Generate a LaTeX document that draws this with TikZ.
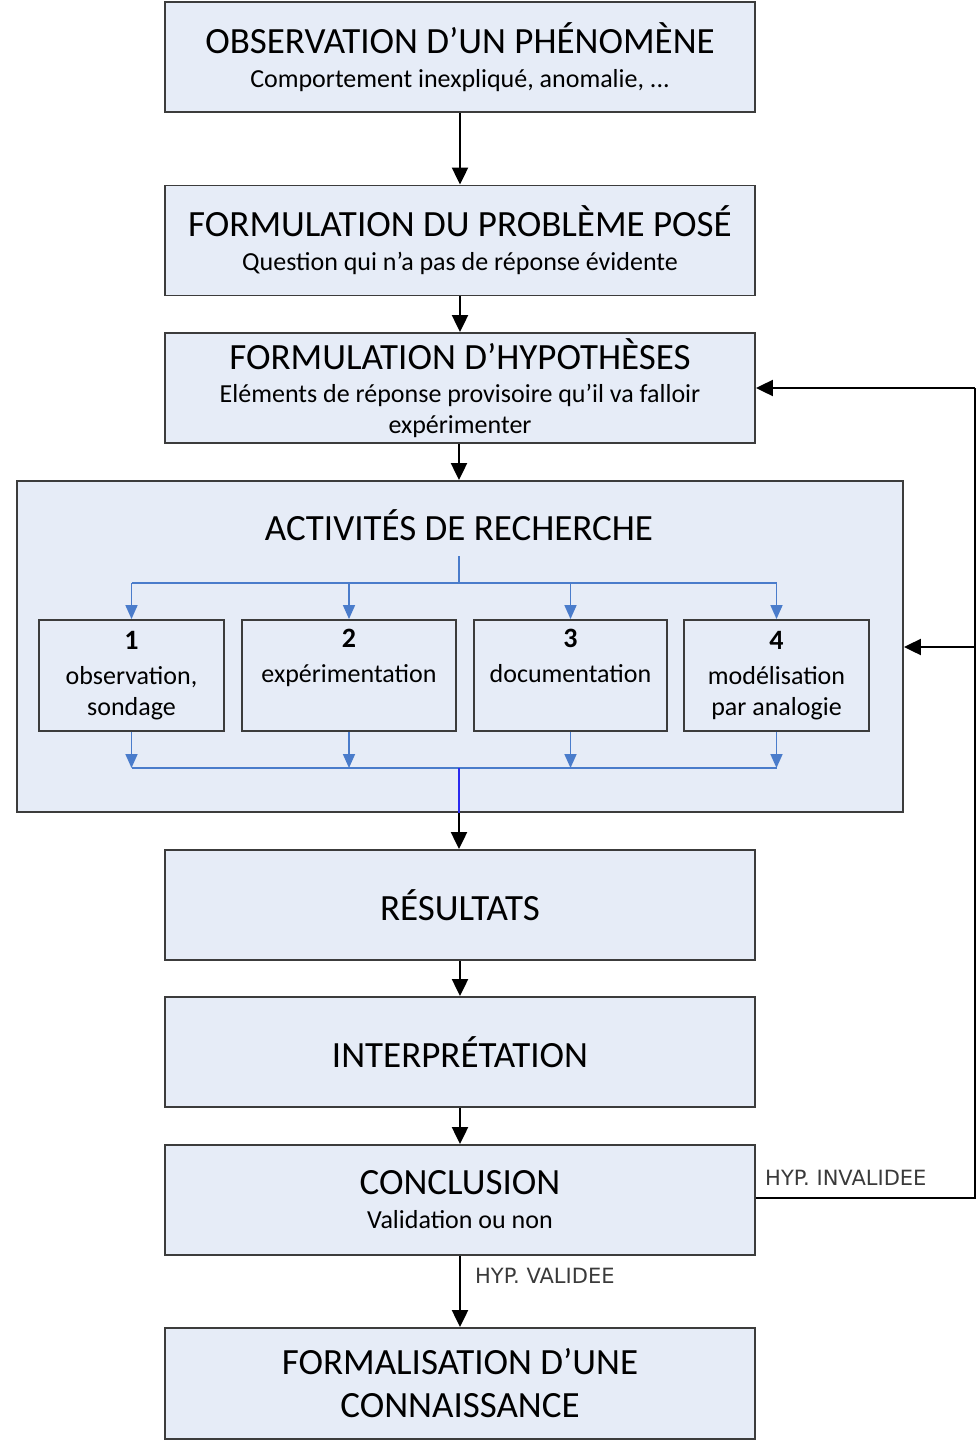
\documentclass[tikz,border=0pt]{standalone}
\usepackage{fontspec}
\setmainfont{Carlito}
\newfontfamily\labelfont{DejaVu Sans}
\usetikzlibrary{arrows.meta}
\definecolor{boxfill}{HTML}{E6ECF7}
\definecolor{boxline}{HTML}{3C3C3C}
\definecolor{flowblue}{HTML}{4A7CCB}
\definecolor{linkblue}{HTML}{2A2AF0}
\definecolor{labelgray}{HTML}{3A3A3A}
\newcommand{\ttl}{\fontsize{37}{43}\selectfont}
\newcommand{\sub}{\fontsize{26}{31}\selectfont}
\newcommand{\num}[1]{{\fontsize{28}{31}\selectfont\bfseries #1}}
\begin{document}
\begin{tikzpicture}[x=1pt,y=-1pt,
  stage/.style={draw=boxline, fill=boxfill, line width=1.9pt,
    minimum width=590pt, minimum height=110pt, align=center, inner sep=0pt, font=\sub},
  group/.style={draw=boxline, fill=boxfill, line width=1.9pt,
    minimum width=886pt, minimum height=331pt, inner sep=0pt},
  activity/.style={draw=boxline, fill=boxfill, line width=1.9pt,
    minimum height=111pt, align=center, inner sep=0pt, font=\sub},
  flow/.style={line width=2.2pt, black, -{Triangle[length=17pt,width=16pt]}},
  bluelink/.style={line width=1.7pt, flowblue},
  bluearrow/.style={bluelink, -{Triangle[length=14pt,width=12pt]}},
  note/.style={font=\labelfont\fontsize{21}{25}\selectfont, text=labelgray, anchor=west, inner sep=0pt}
]
\useasboundingbox (0,0) rectangle (979,1440);

% main stages
\node[stage] (obs) at (460,57) {{\ttl OBSERVATION D’UN PHÉNOMÈNE}\\[3pt]Comportement inexpliqué, anomalie, ...};
\node[stage] (prob) at (460,240.5) {{\ttl FORMULATION DU PROBLÈME POSÉ}\\[3pt]Question qui n’a pas de réponse évidente};
\node[stage] (hyp) at (460,388) {{\ttl FORMULATION D’HYPOTHÈSES}\\[2pt]Eléments de réponse provisoire qu’il va falloir\\expérimenter};
\node[group] (act) at (460,646.5) {};
\node[font=\ttl, inner sep=0pt] (acttitle) at (459,525) {ACTIVITÉS DE RECHERCHE};
\node[stage, font=\ttl] (res) at (460,905) {RÉSULTATS};
\node[stage, font=\ttl] (interp) at (460,1052) {INTERPRÉTATION};
\node[stage] (concl) at (460,1200) {{\ttl CONCLUSION}\\[3pt]Validation ou non};
\node[stage, font=\ttl, minimum height=111pt] (form) at (460,1383.5) {FORMALISATION D’UNE\\CONNAISSANCE};

% research activities
\node[activity, minimum width=185pt] (a1) at (131.5,675.5) {\num{1}\\[4pt]observation,\\sondage};
\node[activity, minimum width=214pt] (a2) at (349,675.5) {\num{2}\\[4pt]expérimentation\\\strut};
\node[activity, minimum width=193pt] (a3) at (570.5,675.5) {\num{3}\\[4pt]documentation\\\strut};
\node[activity, minimum width=185pt] (a4) at (776.5,675.5) {\num{4}\\[4pt]modélisation\\par analogie};

% branching inside the group
\coordinate (split) at (459,556);
\coordinate (splitbar) at (459,583);
\coordinate (mergebar) at (459,768);
\draw[bluelink] (split) -- (splitbar);
\draw[bluelink] (a1.north |- splitbar) -- (a4.north |- splitbar);
\draw[bluelink] (a1.south |- mergebar) -- (a4.south |- mergebar);
\foreach \n in {a1,a2,a3,a4}{
  \draw[bluearrow] (\n.north |- splitbar) -- (\n.north);
  \draw[bluearrow] (\n.south) -- (\n.south |- mergebar);
}
\draw[line width=1.5pt, linkblue] (mergebar) -- (act.south -| mergebar);

% main flow
\draw[flow] (obs) -- (prob);
\draw[flow] (prob) -- (hyp);
\draw[flow] (hyp.south -| split) -- (act.north -| split);
\draw[flow] (act.south -| mergebar) -- (res.north -| mergebar);
\draw[flow] (res) -- (interp);
\draw[flow] (interp) -- (concl);
\draw[flow] (concl) -- (form);

% feedback loop
\coordinate (loopcorner) at (975,1198);
\draw[line width=2.2pt] (concl.east |- loopcorner) -- (loopcorner) -- (loopcorner |- hyp.east)
  edge[flow] (hyp.east);
\coordinate (loopbranch) at (975,647);
\draw[flow] (loopbranch) -- (act.east |- loopbranch);

% labels
\node[note] (invalid) at (765,1178) {HYP. INVALIDEE};
\node[note] (valid) at (475,1276) {HYP. VALIDEE};
\end{tikzpicture}
\end{document}
